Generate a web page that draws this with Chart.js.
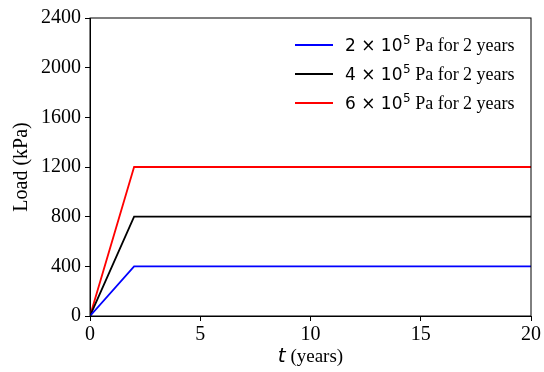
<!DOCTYPE html>
<html>
<head>
<meta charset="utf-8">
<script src="https://cdn.jsdelivr.net/npm/chart.js@4/dist/chart.umd.min.js"></script>
<style>
    html, body { margin: 0; padding: 0; background: #fff; }
    #wrap { width: 544px; height: 372px; }
</style>
</head>
<body>
<div id="wrap"><canvas id="loadChart" width="544" height="372"></canvas></div>
<script>
// time points (years)
const timeYears = [0, 2, 20];

// load histories (kPa)
const load2e5 = [0, 400, 400];
const load4e5 = [0, 800, 800];
const load6e5 = [0, 1200, 1200];

// legend pieces
const mantissas = ['2', '4', '6'];
const seriesSuffix = ' Pa for 2 years';
const seriesColors = ['#0000ff', '#000000', '#ff0000'];

// axis ticks
const xTicks = [0, 5, 10, 15, 20];
const yTicks = [0, 400, 800, 1200, 1600, 2000, 2400];

const SERIF = '"Liberation Serif", "Times New Roman", serif';
const SANS = '"DejaVu Sans", sans-serif';

function toPoints(values) {
    return values.map((v, i) => ({ x: timeYears[i], y: v }));
}

// box border + mixed-font titles + legend
const decorPlugin = {
    id: 'decor',
    afterDraw(chart) {
        const ctx = chart.ctx;
        const a = chart.chartArea;
        ctx.save();

        ctx.strokeStyle = '#000';
        ctx.lineWidth = 1;
        ctx.strokeRect(a.left, a.top, a.right - a.left, a.bottom - a.top);

        // x title: italic t + (years)
        ctx.fillStyle = '#000';
        ctx.textBaseline = 'alphabetic';
        ctx.font = 'italic 20px ' + SANS;
        const tW = ctx.measureText('t').width;
        ctx.font = '19px ' + SERIF;
        const yrsW = ctx.measureText(' (years)').width;
        let x0 = (a.left + a.right) / 2 - (tW + yrsW) / 2;
        ctx.font = 'italic 20px ' + SANS;
        ctx.fillText('t', x0, 362);
        ctx.font = '19px ' + SERIF;
        ctx.fillText(' (years)', x0 + tW, 362);

        // y title
        ctx.save();
        ctx.translate(22, (a.top + a.bottom) / 2);
        ctx.rotate(-Math.PI / 2);
        ctx.textAlign = 'center';
        ctx.textBaseline = 'middle';
        ctx.font = '20px ' + SERIF;
        ctx.fillText('Load (kPa)', 0, 0);
        ctx.restore();

        // legend
        const rowY = [45, 74, 103];
        chart.data.datasets.forEach((ds, i) => {
            const y = rowY[i];
            ctx.strokeStyle = ds.borderColor;
            ctx.lineWidth = 1.8;
            ctx.beginPath();
            ctx.moveTo(295, y);
            ctx.lineTo(333, y);
            ctx.stroke();

            ctx.fillStyle = '#000';
            ctx.textAlign = 'left';
            ctx.textBaseline = 'alphabetic';
            const base = y + 6;
            let x = 345;
            ctx.font = '17px ' + SANS;
            const m = mantissas[i] + ' \u00d7 10';
            ctx.fillText(m, x, base);
            x += ctx.measureText(m).width;
            ctx.font = '12px ' + SANS;
            ctx.fillText('5', x + 0.5, base - 7);
            x += ctx.measureText('5').width + 0.5;
            ctx.font = '18px ' + SERIF;
            ctx.fillText(seriesSuffix, x, base);
        });

        ctx.restore();
    }
};

const ctx = document.getElementById('loadChart').getContext('2d');

new Chart(ctx, {
    type: 'line',
    data: {
        datasets: [load2e5, load4e5, load6e5].map((vals, i) => ({
            label: mantissas[i] + ' \u00d7 10^5' + seriesSuffix,
            data: toPoints(vals),
            borderColor: seriesColors[i],
            borderWidth: 1.8,
            pointRadius: 0,
            fill: false,
            tension: 0
        }))
    },
    options: {
        responsive: false,
        animation: false,
        layout: { padding: { left: 0, right: 13, top: 18, bottom: 0 } },
        scales: {
            x: {
                type: 'linear',
                min: 0,
                max: 20,
                afterBuildTicks(axis) {
                    axis.ticks = xTicks.map(v => ({ value: v }));
                },
                afterFit(axis) { axis.height = 56; },
                grid: {
                    drawOnChartArea: false,
                    drawTicks: true,
                    tickLength: 5,
                    color: '#000'
                },
                border: { display: true, color: '#000', width: 1 },
                ticks: {
                    color: '#000',
                    padding: 2,
                    maxRotation: 0,
                    font: { family: SERIF, size: 20 },
                    callback: v => String(v)
                }
            },
            y: {
                type: 'linear',
                min: 0,
                max: 2400,
                afterBuildTicks(axis) {
                    axis.ticks = yTicks.map(v => ({ value: v }));
                },
                afterFit(axis) { axis.width = 90; },
                grid: {
                    drawOnChartArea: false,
                    drawTicks: true,
                    tickLength: 5,
                    color: '#000'
                },
                border: { display: true, color: '#000', width: 1 },
                ticks: {
                    color: '#000',
                    padding: 4,
                    font: { family: SERIF, size: 20 },
                    callback: v => String(v)
                }
            }
        },
        plugins: {
            legend: { display: false },
            tooltip: { enabled: false }
        }
    },
    plugins: [decorPlugin]
});
</script>
</body>
</html>
